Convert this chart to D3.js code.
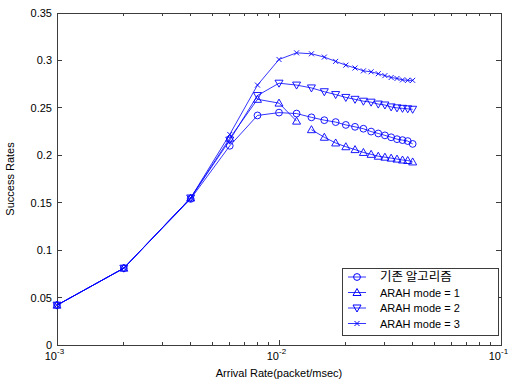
<!DOCTYPE html>
<html>
<head>
<meta charset="utf-8">
<script src="https://cdn.jsdelivr.net/npm/d3@7"></script>
<style>
  html, body { margin: 0; padding: 0; background: #fff; }
  svg { display: block; }
  text { font-family: "Liberation Sans", Arial, sans-serif; fill: #000; }
</style>
</head>
<body>
<div id="chart"></div>
<script>
// arrival rates (packet/msec)
const arrivalRates = [0.001, 0.002, 0.004, 0.006, 0.008, 0.010, 0.012, 0.014, 0.016, 0.018,
  0.020, 0.022, 0.024, 0.026, 0.028, 0.030, 0.032, 0.034, 0.036, 0.038, 0.040];

const baseline = [0.042, 0.081, 0.154, 0.210, 0.242, 0.245, 0.244, 0.240, 0.237, 0.235,
  0.232, 0.230, 0.228, 0.225, 0.223, 0.221, 0.219, 0.217, 0.216, 0.215, 0.212];
const mode1 = [0.042, 0.081, 0.155, 0.218, 0.259, 0.255, 0.236, 0.227, 0.219, 0.213,
  0.209, 0.206, 0.203, 0.201, 0.199, 0.198, 0.197, 0.196, 0.195, 0.1945, 0.193];
const mode2 = [0.042, 0.081, 0.155, 0.216, 0.263, 0.276, 0.274, 0.271, 0.267, 0.264,
  0.261, 0.259, 0.257, 0.256, 0.254, 0.253, 0.251, 0.250, 0.2495, 0.249, 0.2485];
const mode3 = [0.042, 0.081, 0.155, 0.222, 0.274, 0.301, 0.308, 0.307, 0.3035, 0.299,
  0.295, 0.292, 0.289, 0.288, 0.286, 0.284, 0.282, 0.281, 0.2795, 0.279, 0.279];

const seriesNames = ['기존 알고리즘', 'ARAH mode = 1', 'ARAH mode = 2', 'ARAH mode = 3'];
const seriesMarkers = ['circle', 'triUp', 'triDown', 'cross'];
const seriesValues = [baseline, mode1, mode2, mode3];
// index after which the plotted line is interrupted (as in the original figure)
const seriesGaps = [[], [6], [], []];

const yTicks = [0, 0.05, 0.1, 0.15, 0.2, 0.25, 0.3, 0.35];
const xMajor = [1e-3, 1e-2, 1e-1];
const xExponents = ['-3', '-2', '-1'];

const width = 509, height = 388;
const margin = { top: 13, right: 8, bottom: 43, left: 57 };
const blue = '#0000ff';
const axisColor = '#3c3c3c';

const svg = d3.select('#chart').append('svg').attr('width', width).attr('height', height);

const x = d3.scaleLog().domain([1e-3, 1e-1]).range([margin.left, width - margin.right]);
const y = d3.scaleLinear().domain([0, 0.35]).range([height - margin.bottom, margin.top]);

const x0 = x.range()[0], x1 = x.range()[1];
const y0 = y.range()[0], y1 = y.range()[1];

// minor ticks for log axis
const xMinor = [];
[1e-3, 1e-2].forEach(d => { for (let k = 2; k <= 9; k++) xMinor.push(d * k); });

const axes = svg.append('g').attr('stroke', axisColor).attr('stroke-width', 1).attr('shape-rendering', 'crispEdges');
axes.append('rect').attr('x', x0).attr('y', y1).attr('width', x1 - x0).attr('height', y0 - y1).attr('fill', 'none');

// y ticks on left and right (inward)
yTicks.forEach(t => {
  axes.append('line').attr('x1', x0).attr('x2', x0 + 5).attr('y1', y(t)).attr('y2', y(t));
  axes.append('line').attr('x1', x1).attr('x2', x1 - 5).attr('y1', y(t)).attr('y2', y(t));
});
// x ticks on bottom and top (inward)
xMajor.forEach(t => {
  axes.append('line').attr('x1', x(t)).attr('x2', x(t)).attr('y1', y0).attr('y2', y0 - 5);
  axes.append('line').attr('x1', x(t)).attr('x2', x(t)).attr('y1', y1).attr('y2', y1 + 5);
});
xMinor.forEach(t => {
  axes.append('line').attr('x1', x(t)).attr('x2', x(t)).attr('y1', y0).attr('y2', y0 - 3);
  axes.append('line').attr('x1', x(t)).attr('x2', x(t)).attr('y1', y1).attr('y2', y1 + 3);
});

// tick labels
svg.append('g').selectAll('text').data(yTicks).enter().append('text')
  .attr('x', x0 - 5).attr('y', d => y(d) + 4)
  .attr('text-anchor', 'end').attr('font-size', 11)
  .text(d => d === 0 ? '0' : String(d));

// "10" ends at the tick, exponent follows (the last one runs to the edge, as in the original)
const xl = svg.append('g').selectAll('g').data(xMajor).enter().append('g');
xl.append('text').attr('x', d => x(d)).attr('y', y0 + 15)
  .attr('text-anchor', 'end').attr('font-size', 11).text('10');
xl.append('text').attr('x', d => x(d)).attr('y', y0 + 9)
  .attr('text-anchor', 'start').attr('font-size', 8).text((d, i) => xExponents[i]);

// axis titles
svg.append('text').attr('x', (x0 + x1) / 2).attr('y', y0 + 32)
  .attr('text-anchor', 'middle').attr('font-size', 11).text('Arrival Rate(packet/msec)');
svg.append('text').attr('transform', `translate(14,${(y0 + y1) / 2}) rotate(-90)`)
  .attr('text-anchor', 'middle').attr('font-size', 11).text('Success Rates');

// markers
function drawMarker(g, type, cx, cy) {
  if (type === 'circle') {
    g.append('circle').attr('cx', cx).attr('cy', cy).attr('r', 3.4);
  } else if (type === 'triUp') {
    g.append('path').attr('d', `M${cx},${cy - 4}L${cx + 4},${cy + 3}L${cx - 4},${cy + 3}Z`);
  } else if (type === 'triDown') {
    g.append('path').attr('d', `M${cx},${cy + 4}L${cx + 4},${cy - 3}L${cx - 4},${cy - 3}Z`);
  } else {
    g.append('path').attr('d', `M${cx - 2.5},${cy - 2.5}L${cx + 2.5},${cy + 2.5}M${cx - 2.5},${cy + 2.5}L${cx + 2.5},${cy - 2.5}`);
  }
}

const line = d3.line().x(d => x(d[0])).y(d => y(d[1]));
const plot = svg.append('g');

seriesValues.forEach((vals, si) => {
  const pts = arrivalRates.map((r, i) => [r, vals[i]]);
  const segments = [];
  let start = 0;
  seriesGaps[si].forEach(g => { segments.push(pts.slice(start, g + 1)); start = g + 1; });
  segments.push(pts.slice(start));
  const g = plot.append('g').attr('fill', 'none').attr('stroke', blue);
  segments.forEach(seg => g.append('path').attr('d', line(seg)).attr('stroke-width', 0.8));
  const mg = g.append('g').attr('stroke-width', 0.9);
  pts.forEach(p => drawMarker(mg, seriesMarkers[si], x(p[0]), y(p[1])));
});

// legend
const legend = svg.append('g');
legend.append('rect').attr('x', 342).attr('y', 268).attr('width', 156).attr('height', 67)
  .attr('fill', '#fff').attr('stroke', axisColor).attr('shape-rendering', 'crispEdges');
seriesNames.forEach((name, i) => {
  const cy = 277 + i * 15.5;
  const row = legend.append('g').attr('fill', 'none').attr('stroke', blue);
  row.append('line').attr('x1', 348).attr('x2', 366).attr('y1', cy).attr('y2', cy).attr('stroke-width', 0.8);
  drawMarker(row, seriesMarkers[i], 357, cy);
  legend.append('text').attr('x', 380).attr('y', cy + 4)
    .attr('font-size', i === 0 ? 12.5 : 11)
    .style('font-family', i === 0 ? '"Noto Sans CJK KR", sans-serif' : null)
    .text(name);
});
</script>
</body>
</html>
